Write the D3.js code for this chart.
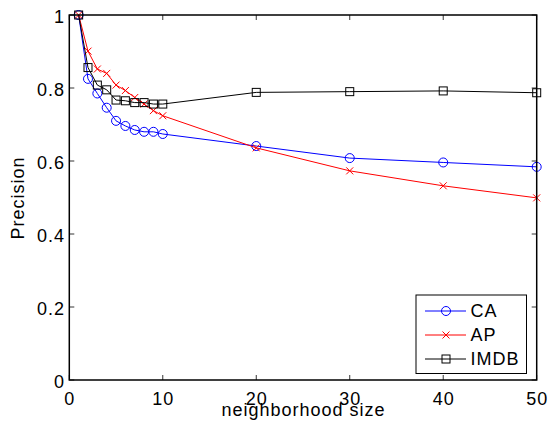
<!DOCTYPE html>
<html>
<head>
<meta charset="utf-8">
<script src="https://cdn.jsdelivr.net/npm/d3@7"></script>
<style>
  body { margin: 0; background: #fff; }
  text { font-family: "Liberation Sans", Arial, sans-serif; font-size: 18px; letter-spacing: 1px; }
</style>
</head>
<body>
<div id="chart"></div>
<script>
// neighborhood sizes
const sizes = [1, 2, 3, 4, 5, 6, 7, 8, 9, 10, 20, 30, 40, 50]
const caVals   = [1.0, 0.825, 0.785, 0.746, 0.710, 0.696, 0.685, 0.680, 0.680, 0.674, 0.641, 0.608, 0.596, 0.584]
const apVals   = [1.0, 0.901, 0.852, 0.840, 0.808, 0.793, 0.774, 0.756, 0.738, 0.724, 0.636, 0.573, 0.532, 0.499]
const imdbVals = [1.0, 0.856, 0.808, 0.795, 0.767, 0.765, 0.760, 0.760, 0.756, 0.756, 0.788, 0.790, 0.792, 0.787]
const seriesNames = ["CA", "AP", "IMDB"]
const xTicks = [0, 10, 20, 30, 40, 50]
const yTicks = [0, 0.2, 0.4, 0.6, 0.8, 1]

const w = 550, h = 432
const pLeft = 69.3, pRight = 536.7, pTop = 15, pBottom = 380

const xScale = d3.scaleLinear().domain([0, 50]).range([pLeft, pRight])
const yScale = d3.scaleLinear().domain([0, 1]).range([pBottom, pTop])

const svg = d3.select("#chart").append("svg")
  .attr("width", w).attr("height", h)

const series = [
  { name: seriesNames[0], vals: caVals,   color: "#0000ff", marker: "circle" },
  { name: seriesNames[1], vals: apVals,   color: "#ff0000", marker: "x" },
  { name: seriesNames[2], vals: imdbVals, color: "#000000", marker: "square" }
]

// ticks (inside, on all four sides like matlab box)
const tl = 5
const g = svg.append("g").attr("stroke", "#000").attr("stroke-width", 0.8)
xTicks.forEach(t => {
  g.append("line").attr("x1", xScale(t)).attr("x2", xScale(t)).attr("y1", pBottom).attr("y2", pBottom - tl)
  g.append("line").attr("x1", xScale(t)).attr("x2", xScale(t)).attr("y1", pTop).attr("y2", pTop + tl)
})
yTicks.forEach(t => {
  g.append("line").attr("x1", pLeft).attr("x2", pLeft + tl).attr("y1", yScale(t)).attr("y2", yScale(t))
  g.append("line").attr("x1", pRight).attr("x2", pRight - tl).attr("y1", yScale(t)).attr("y2", yScale(t))
})

// letter-spacing leaves a trailing gap, so nudge anchored labels by it
svg.selectAll(".xl").data(xTicks).enter().append("text")
  .attr("x", d => xScale(d) + 0.5).attr("y", 404.5)
  .attr("text-anchor", "middle")
  .text(d => d)

svg.selectAll(".yl").data(yTicks).enter().append("text")
  .attr("x", 65).attr("y", d => yScale(d) + 7.5)
  .attr("text-anchor", "end")
  .text(d => d)

const line = d3.line().x((d, i) => xScale(sizes[i])).y(d => yScale(d))

function drawMarker(sel, type, color) {
  if (type == "circle") {
    sel.append("circle").attr("r", 4.5).attr("fill", "none").attr("stroke", color).attr("stroke-width", 1)
  } else if (type == "square") {
    sel.append("rect").attr("x", -4).attr("y", -4).attr("width", 8).attr("height", 8)
      .attr("fill", "none").attr("stroke", color).attr("stroke-width", 1)
  } else {
    sel.append("path").attr("d", "M-3.5,-3.5L3.5,3.5M-3.5,3.5L3.5,-3.5")
      .attr("stroke", color).attr("stroke-width", 1)
  }
}

series.forEach(s => {
  svg.append("path").datum(s.vals)
    .attr("d", line).attr("fill", "none")
    .attr("stroke", s.color).attr("stroke-width", 1)
  s.vals.forEach((v, i) => {
    const m = svg.append("g").attr("transform", "translate(" + xScale(sizes[i]) + "," + yScale(v) + ")")
    drawMarker(m, s.marker, s.color)
  })
})

// box
svg.append("rect").attr("x", pLeft).attr("y", pTop)
  .attr("width", pRight - pLeft).attr("height", pBottom - pTop)
  .attr("fill", "none").attr("stroke", "#000").attr("stroke-width", 1.5)

// legend
const lg = svg.append("g")
lg.append("rect").attr("x", 416).attr("y", 295).attr("width", 110.5).attr("height", 78.5)
  .attr("fill", "#fff").attr("stroke", "#000").attr("stroke-width", 1)
series.forEach((s, i) => {
  const yy = 311 + i * 24
  lg.append("line").attr("x1", 425).attr("x2", 466).attr("y1", yy).attr("y2", yy)
    .attr("stroke", s.color).attr("stroke-width", 1)
  const m = lg.append("g").attr("transform", "translate(446," + yy + ")")
  drawMarker(m, s.marker, s.color)
  lg.append("text").attr("x", 470.5).attr("y", yy + 6.3).text(s.name)
})

svg.append("text").attr("x", (pLeft + pRight) / 2 + 0.5).attr("y", 416)
  .attr("text-anchor", "middle").text("neighborhood size")

svg.append("text").attr("transform", "translate(24," + ((pTop + pBottom) / 2 + 0.5) + ") rotate(-90)")
  .attr("text-anchor", "middle").text("Precision")
</script>
</body>
</html>
